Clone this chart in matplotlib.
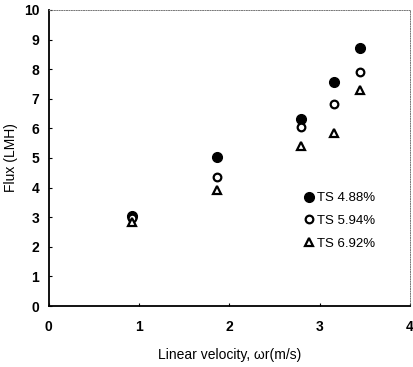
import matplotlib
matplotlib.use("Agg")
import matplotlib.pyplot as plt
from matplotlib.lines import Line2D

velocity = [0.92, 1.86, 2.79, 3.16, 3.45]
flux_488 = [3.05, 5.03, 6.30, 7.57, 8.72]
flux_594 = [2.96, 4.36, 6.04, 6.82, 7.89]
flux_692 = [2.85, 3.93, 5.40, 5.85, 7.29]
labels = ["TS 4.88%", "TS 5.94%", "TS 6.92%"]
xticks = [0, 1, 2, 3, 4]
yticks = list(range(0, 11))

plt.rcParams['font.family'] = ['Liberation Sans', 'DejaVu Sans']

fig = plt.figure(figsize=(4.14, 3.67), dpi=100)
ax = fig.add_axes([0.118, 0.166, 0.872, 0.807])

ax.plot(velocity, flux_488, linestyle='none', marker='o', markersize=7,
        markerfacecolor='black', markeredgecolor='black')
ax.plot(velocity, flux_594, linestyle='none', marker='o', markersize=5.5,
        markerfacecolor='white', markeredgecolor='black', markeredgewidth=1.6)
ax.plot(velocity, flux_692, linestyle='none', marker='^', markersize=6,
        markerfacecolor='white', markeredgecolor='black', markeredgewidth=1.6)

ax.set_xlim(0, 4)
ax.set_ylim(0, 10)
ax.set_xticks(xticks)
ax.set_yticks(yticks)
ax.tick_params(direction='in', length=2.5, width=0.8, labelsize=10)
ax.tick_params(axis='x', pad=10)
ax.tick_params(axis='y', pad=7)
for t in ax.get_xticklabels() + ax.get_yticklabels():
    t.set_fontweight('bold')

for s in ['left', 'bottom']:
    ax.spines[s].set_linewidth(1.3)
for s in ['top', 'right']:
    ax.spines[s].set_linestyle((0, (1, 1.5)))
    ax.spines[s].set_linewidth(0.7)
    ax.spines[s].set_color('#777777')

ax.set_xlabel("Linear velocity, \u03c9r(m/s)", fontsize=10, labelpad=10)
ax.set_ylabel("Flux (LMH)", fontsize=10, labelpad=4)

handles = [
    Line2D([], [], linestyle='none', marker='o', markersize=7,
           markerfacecolor='black', markeredgecolor='black'),
    Line2D([], [], linestyle='none', marker='o', markersize=5.5,
           markerfacecolor='white', markeredgecolor='black', markeredgewidth=1.6),
    Line2D([], [], linestyle='none', marker='^', markersize=6,
           markerfacecolor='white', markeredgecolor='black', markeredgewidth=1.6),
]
ax.legend(handles, labels, loc='upper left', bbox_to_anchor=(0.709, 0.385),
          frameon=False, fontsize=9.5, handlelength=0.6, handletextpad=0.3,
          labelspacing=0.8, borderpad=0, borderaxespad=0)

fig.savefig("out.png", dpi=100)
